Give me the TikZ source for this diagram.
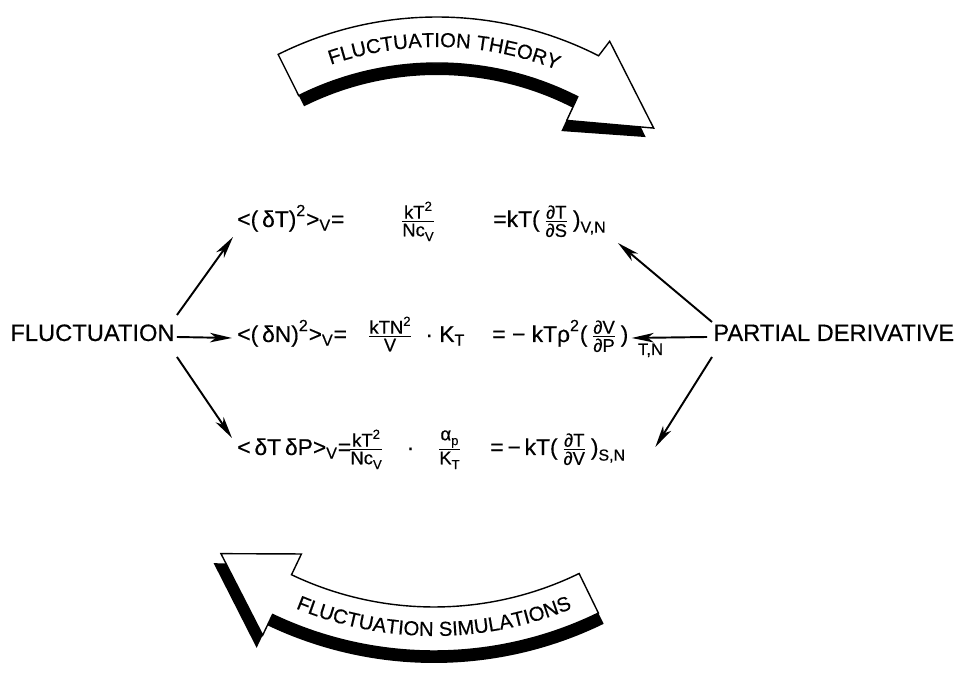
\documentclass[tikz,border=0pt]{standalone}
\usepackage{amsmath}
\usepackage{fontspec}
\setmainfont{Liberation Sans}[FakeBold=0.4]
\usetikzlibrary{arrows.meta,decorations.text}

\newcommand\supx[1]{^{\text{#1}}}
\newcommand\subx[1]{_{\text{#1}}}
\newcommand\fracfont{\fontsize{10.5}{12}\selectfont}
\newcommand\tsup[1]{\raisebox{0.8ex}{\fontsize{7.5}{9}\selectfont #1}}
\newcommand\tsub[1]{\raisebox{-0.5ex}{\fontsize{7.5}{9}\selectfont #1}}
\newcommand\fracx[2]{\genfrac{}{}{0.7pt}{1}{\text{\fracfont #1}}{\text{\fracfont #2}}}
\newcommand\ribbonfont{\fontsize{11.5}{13}\selectfont}

\begin{document}
\begin{tikzpicture}[
      x=0.02cm, y=0.02cm,
      lbl/.style={inner sep=0pt, anchor=base west, font=\fontsize{13.5}{16}\selectfont},
      eqn/.style={inner sep=0pt, anchor=base west, font=\fontsize{13}{16}\selectfont},
      arrow/.style={-{Stealth[length=4.4mm, width=1.9mm, inset=1.2mm]}, line width=1.1pt},
      ribbon/.style={fill=white, draw=black, line width=0.8pt, line join=miter},
      ribbonshadow/.style={fill=black}
    ]
    \useasboundingbox (0,0) rectangle (963,675);

    % upper ribbon
    \begin{scope}[shift={(437,302)}]
      \fill[ribbonshadow] (116.5:344) arc[start angle=116.5, end angle=63, radius=344]
        -- (62.5:362) -- (48.5:315) -- (62.8:272) -- (63:298)
        arc[start angle=63, end angle=116.5, radius=298] -- cycle;
      \draw[ribbon] (116.5:356) arc[start angle=116.5, end angle=63, radius=356]
        -- (62.5:374) -- (48.5:327) -- (62.8:284) -- (63:310)
        arc[start angle=63, end angle=116.5, radius=310] -- cycle;
      \path[decorate, decoration={text along path, text align=center,
          text={|\ribbonfont|FLUCTUATION THEORY}}]
        (109:326) arc[start angle=109, end angle=68.4, radius=326];
    \end{scope}

    % lower ribbon
    \begin{scope}[shift={(434,399)}]
      \fill[ribbonshadow] (296:343) arc[start angle=296, end angle=244.5, radius=343]
        -- (244.5:320) -- (232.5:362) -- (244.5:412) -- (244.5:387)
        arc[start angle=244.5, end angle=296, radius=387] -- cycle;
      \draw[ribbon] (296:331) arc[start angle=296, end angle=244.5, radius=331]
        -- (244.5:308) -- (232.5:350) -- (244.5:398) -- (244.5:375)
        arc[start angle=244.5, end angle=296, radius=375] -- cycle;
      \path[decorate, decoration={text along path, text align=center,
          text={|\ribbonfont|FLUCTUATION SIMULATIONS}}]
        (246.6:360) arc[start angle=246.6, end angle=293.4, radius=360];
    \end{scope}

    \node[lbl] (flu) at (10,334) {FLUCTUATION};
    \node[lbl] (pd) at (713,334) {PARTIAL DERIVATIVE};

    \node[eqn] (l1) at (237,448) {$\text{<(\,δT)}\supx{2}\text{>}\subx{V}\text{=}$};
    \node[eqn, anchor=base] (m1) at (418,448) {$\fracx{kT\tsup{2}}{Nc\tsub{V}}$};
    \node[eqn] (r1) at (493,448) {$\text{=kT(\,}\fracx{∂T}{∂S}\text{\,)}\subx{V,N}$};

    \node[eqn] (l2) at (237,333) {$\text{<(\,δN)}\supx{2}\text{>}\subx{V}\text{=}$};
    \node[eqn] (m2) at (367,333) {$\fracx{kTN\tsup{2}}{V}\text{\ \ ·\ K}\subx{T}$};
    \node[eqn] (r2) at (492,333) {$\text{=\ −\ kTρ}\supx{2}\text{(\,}\fracx{∂V}{∂P}\text{\,)}$};
    \node[eqn, font=\fontsize{9.5}{11}\selectfont] (r2s) at ([shift={(9,-13)}]r2.base east) {T,N};

    \node[eqn] (l3) at (237,220) {$\text{<\,δT\,δP>}\subx{V}\text{=}$};
    \node[eqn] (m3) at (348,220) {$\fracx{kT\tsup{2}}{Nc\tsub{V}}\text{\quad·\quad}\fracx{α\tsub{p}}{K\tsub{T}}$};
    \node[eqn] (r3) at (490,220) {$\text{=\,−\,kT(\,}\fracx{∂T}{∂V}\text{\,)}\subx{S,N}$};

    \draw[arrow] ([shift={(2,26)}]flu.base east) -- ([shift={(-4,-10)}]l1.base west);
    \draw[arrow] ([shift={(2,4)}]flu.base east) -- ([shift={(-5,4)}]l2.base west);
    \draw[arrow] ([shift={(2,-16)}]flu.base east) -- ([shift={(-5,17)}]l3.base west);
    \draw[arrow] ([shift={(-1,19)}]pd.base west) -- ([shift={(11,-16)}]r1.base east);
    \draw[arrow] ([shift={(-6,4)}]pd.base west) -- ([shift={(3,4)}]r2.base east);
    \draw[arrow] ([shift={(-1,-16)}]pd.base west) -- ([shift={(29,8)}]r3.base east);
  \end{tikzpicture}
\end{document}
